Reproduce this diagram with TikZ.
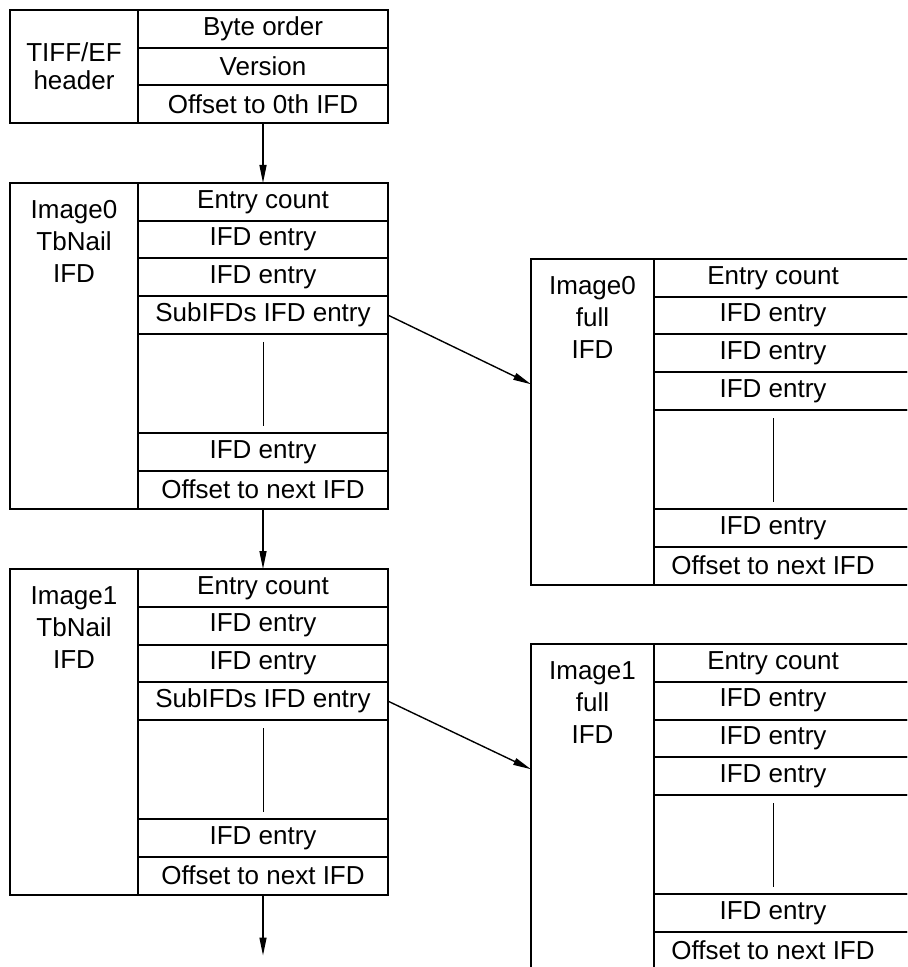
\documentclass[tikz,border=0pt]{standalone}
\usepackage{fontspec}
\setmainfont{Liberation Sans}
\usetikzlibrary{positioning,arrows.meta}
\tikzset{
  field/.style={draw, line width=1pt, minimum width=125pt, minimum height=18.875pt, inner sep=0pt, outer sep=0pt, font=\fontsize{13}{16}\selectfont},
  field2/.style={field, minimum width=128pt, execute at begin node={\hspace*{-9pt}}},
  gapfield/.style={field, minimum height=49.5pt},
  gapfield2/.style={field2, minimum height=49.5pt},
  namecol/.style={draw, line width=1pt, minimum width=64pt, minimum height=162.75pt, inner sep=0pt, outer sep=0pt, anchor=north east},
  namecol2/.style={namecol, minimum width=61.5pt},
  nametext/.style={font=\fontsize{13}{16}\selectfont, align=center, inner sep=0pt, anchor=north, yshift=-8.5pt},
  linkarrow/.style={-{Triangle[length=9pt, width=3.5pt]}, line width=0.7pt},
  skipline/.style={line width=0.5pt}
}
\begin{document}
\begin{tikzpicture}[x=0.5pt, y=-0.5pt]
  \useasboundingbox (0,0) rectangle (907,967);
  \clip (0,0) rectangle (907,967);

  % header
  \node[field, anchor=north] (hdr-byte) at (263,10) {Byte order};
  \node[field, below=0pt of hdr-byte] (hdr-ver) {Version};
  \node[field, below=0pt of hdr-ver] (hdr-off) {Offset to 0th IFD};
  \node[namecol, minimum height=56.625pt, align=center, font=\fontsize{13}{14}\selectfont] (hdr-name) at (hdr-byte.north west) {TIFF/EF\\header};

  % thumbnail IFD 0
  \node[field, anchor=north] (tn0-count) at (263,183) {Entry count};
  \node[field, below=0pt of tn0-count] (tn0-e1) {IFD entry};
  \node[field, below=0pt of tn0-e1] (tn0-e2) {IFD entry};
  \node[field, below=0pt of tn0-e2] (tn0-sub) {SubIFDs IFD entry};
  \node[gapfield, below=0pt of tn0-sub] (tn0-gap) {};
  \node[field, below=0pt of tn0-gap] (tn0-e3) {IFD entry};
  \node[field, below=0pt of tn0-e3] (tn0-off) {Offset to next IFD};
  \node[namecol, label={[nametext]north:{Image0\\TbNail\\IFD}}] (tn0-name) at (tn0-count.north west) {};

  % thumbnail IFD 1
  \node[field, anchor=north] (tn1-count) at (263,569) {Entry count};
  \node[field, below=0pt of tn1-count] (tn1-e1) {IFD entry};
  \node[field, below=0pt of tn1-e1] (tn1-e2) {IFD entry};
  \node[field, below=0pt of tn1-e2] (tn1-sub) {SubIFDs IFD entry};
  \node[gapfield, below=0pt of tn1-sub] (tn1-gap) {};
  \node[field, below=0pt of tn1-gap] (tn1-e3) {IFD entry};
  \node[field, below=0pt of tn1-e3] (tn1-off) {Offset to next IFD};
  \node[namecol, label={[nametext]north:{Image1\\TbNail\\IFD}}] (tn1-name) at (tn1-count.north west) {};

  % full IFD 0
  \node[field2, anchor=north] (full0-count) at (782,259) {Entry count};
  \node[field2, below=0pt of full0-count] (full0-e1) {IFD entry};
  \node[field2, below=0pt of full0-e1] (full0-e2) {IFD entry};
  \node[field2, below=0pt of full0-e2] (full0-e3) {IFD entry};
  \node[gapfield2, below=0pt of full0-e3] (full0-gap) {};
  \node[field2, below=0pt of full0-gap] (full0-e4) {IFD entry};
  \node[field2, below=0pt of full0-e4] (full0-off) {Offset to next IFD};
  \node[namecol2, label={[nametext]north:{Image0\\full\\IFD}}] (full0-name) at (full0-count.north west) {};

  % full IFD 1
  \node[field2, anchor=north] (full1-count) at (782,644) {Entry count};
  \node[field2, below=0pt of full1-count] (full1-e1) {IFD entry};
  \node[field2, below=0pt of full1-e1] (full1-e2) {IFD entry};
  \node[field2, below=0pt of full1-e2] (full1-e3) {IFD entry};
  \node[gapfield2, below=0pt of full1-e3] (full1-gap) {};
  \node[field2, below=0pt of full1-gap] (full1-e4) {IFD entry};
  \node[field2, below=0pt of full1-e4] (full1-off) {Offset to next IFD};
  \node[namecol2, label={[nametext]north:{Image1\\full\\IFD}}] (full1-name) at (full1-count.north west) {};

  % skipped entries
  \draw[skipline] ([xshift=-4.5pt, yshift=-4pt]full0-gap.north) -- ([xshift=-4.5pt, yshift=3.5pt]full0-gap.south);
  \draw[skipline] ([xshift=-4.5pt, yshift=-4pt]full1-gap.north) -- ([xshift=-4.5pt, yshift=3.5pt]full1-gap.south);
  \draw[skipline] ([yshift=-4pt]tn0-gap.north) -- ([yshift=3.5pt]tn0-gap.south);
  \draw[skipline] ([yshift=-4pt]tn1-gap.north) -- ([yshift=3.5pt]tn1-gap.south);

  % links
  \coordinate (tn1-next) at ([yshift=-30.5pt]tn1-off.south);
  \draw[linkarrow] (hdr-off) -- (tn0-count);
  \draw[linkarrow] (tn0-off) -- (tn1-count);
  \draw[linkarrow] (tn1-off) -- (tn1-next);
  \draw[linkarrow] (tn0-sub.east) -- ([yshift=18.75pt]full0-name.west);
  \draw[linkarrow] (tn1-sub.east) -- ([yshift=18.75pt]full1-name.west);
\end{tikzpicture}
\end{document}
